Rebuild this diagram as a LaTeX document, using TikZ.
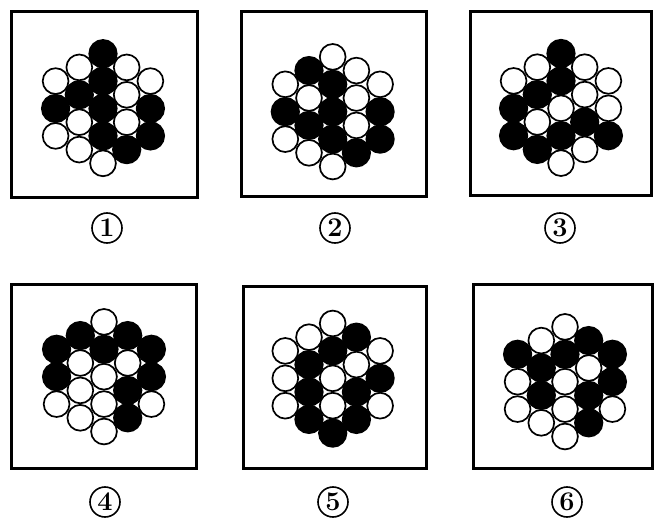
\documentclass[tikz,border=0pt]{standalone}
\usepackage{tikz}
\usetikzlibrary{positioning}

% one column of stones, listed top to bottom
\newcommand\stonecol[4]{%
  \foreach \k [count=\j from 0] in {#4} \path[#1 \k] (#2,{#3+27.4*\j}) circle (12.9pt);}
% one hexagon of 19 stones: five columns, left to right; black ones first, white on top
\newcommand\hexstones[6]{%
  \begin{scope}[shift={#1}]
    \foreach \pass in {lower,upper} {
      \stonecol{\pass}{-47.4}{-27.4}{#2}
      \stonecol{\pass}{-23.7}{-41.1}{#3}
      \stonecol{\pass}{0}{-54.8}{#4}
      \stonecol{\pass}{23.7}{-41.1}{#5}
      \stonecol{\pass}{47.4}{-27.4}{#6}
    }
  \end{scope}}

\begin{document}
\begin{tikzpicture}[
  x=1pt,y=-1pt,
  frame/.style={draw=black,line width=2.6pt,inner sep=0pt},
  lower b/.style={draw=black,fill=black,line width=3.4pt},
  lower w/.style={},
  upper w/.style={draw=black,fill=white,line width=1.7pt},
  upper b/.style={},
  tag/.style={draw=black,circle,line width=1.6pt,minimum size=30pt,inner sep=0pt,
              font=\fontsize{27}{27}\selectfont\bfseries},
]
\useasboundingbox (0,0) rectangle (654,519);

% ---- Top row
\node[frame,minimum width=186pt,minimum height=186pt] (p1) at (104.5,104.5) {};
\node[frame,minimum width=185pt,minimum height=185pt] (p2) at (334,104) {};
\node[frame,minimum width=181pt,minimum height=184pt] (p3) at (561,103.5) {};

\hexstones{(103,108.5)}{w,b,w}{w,b,w,w}{b,b,b,b,w}{w,w,w,b}{w,b,b}
\hexstones{(332.7,111.7)}{w,b,w}{b,w,b,w}{w,b,b,b,w}{w,w,w,b}{w,b,b}
\hexstones{(561,108.3)}{w,b,b}{w,b,w,b}{b,b,w,b,w}{w,w,b,w}{w,w,b}

\node[tag] (n1) at (107,228) {1};
\node[tag] (n2) at (335,228) {2};
\node[tag] (n3) at (560,228) {3};

% ---- Bottom row
\node[frame,minimum width=185pt,minimum height=184pt] (p4) at (104,376.5) {};
\node[frame,minimum width=183pt,minimum height=182pt] (p5) at (335,377.5) {};
\node[frame,minimum width=179pt,minimum height=184pt] (p6) at (563,376.5) {};

\hexstones{(104,376.7)}{b,b,w}{b,w,w,w}{w,b,w,w,w}{b,w,b,b}{b,b,w}
\hexstones{(332.7,378.3)}{w,w,w}{w,b,b,b}{w,b,w,w,b}{b,w,b,b}{w,b,w}
\hexstones{(565,381.7)}{b,w,w}{w,b,b,w}{w,b,w,w,w}{b,w,b,b}{b,b,w}

\node[tag] (n4) at (105,502) {4};
\node[tag] (n5) at (333,502) {5};
\node[tag] (n6) at (567,502) {6};

\end{tikzpicture}
\end{document}
